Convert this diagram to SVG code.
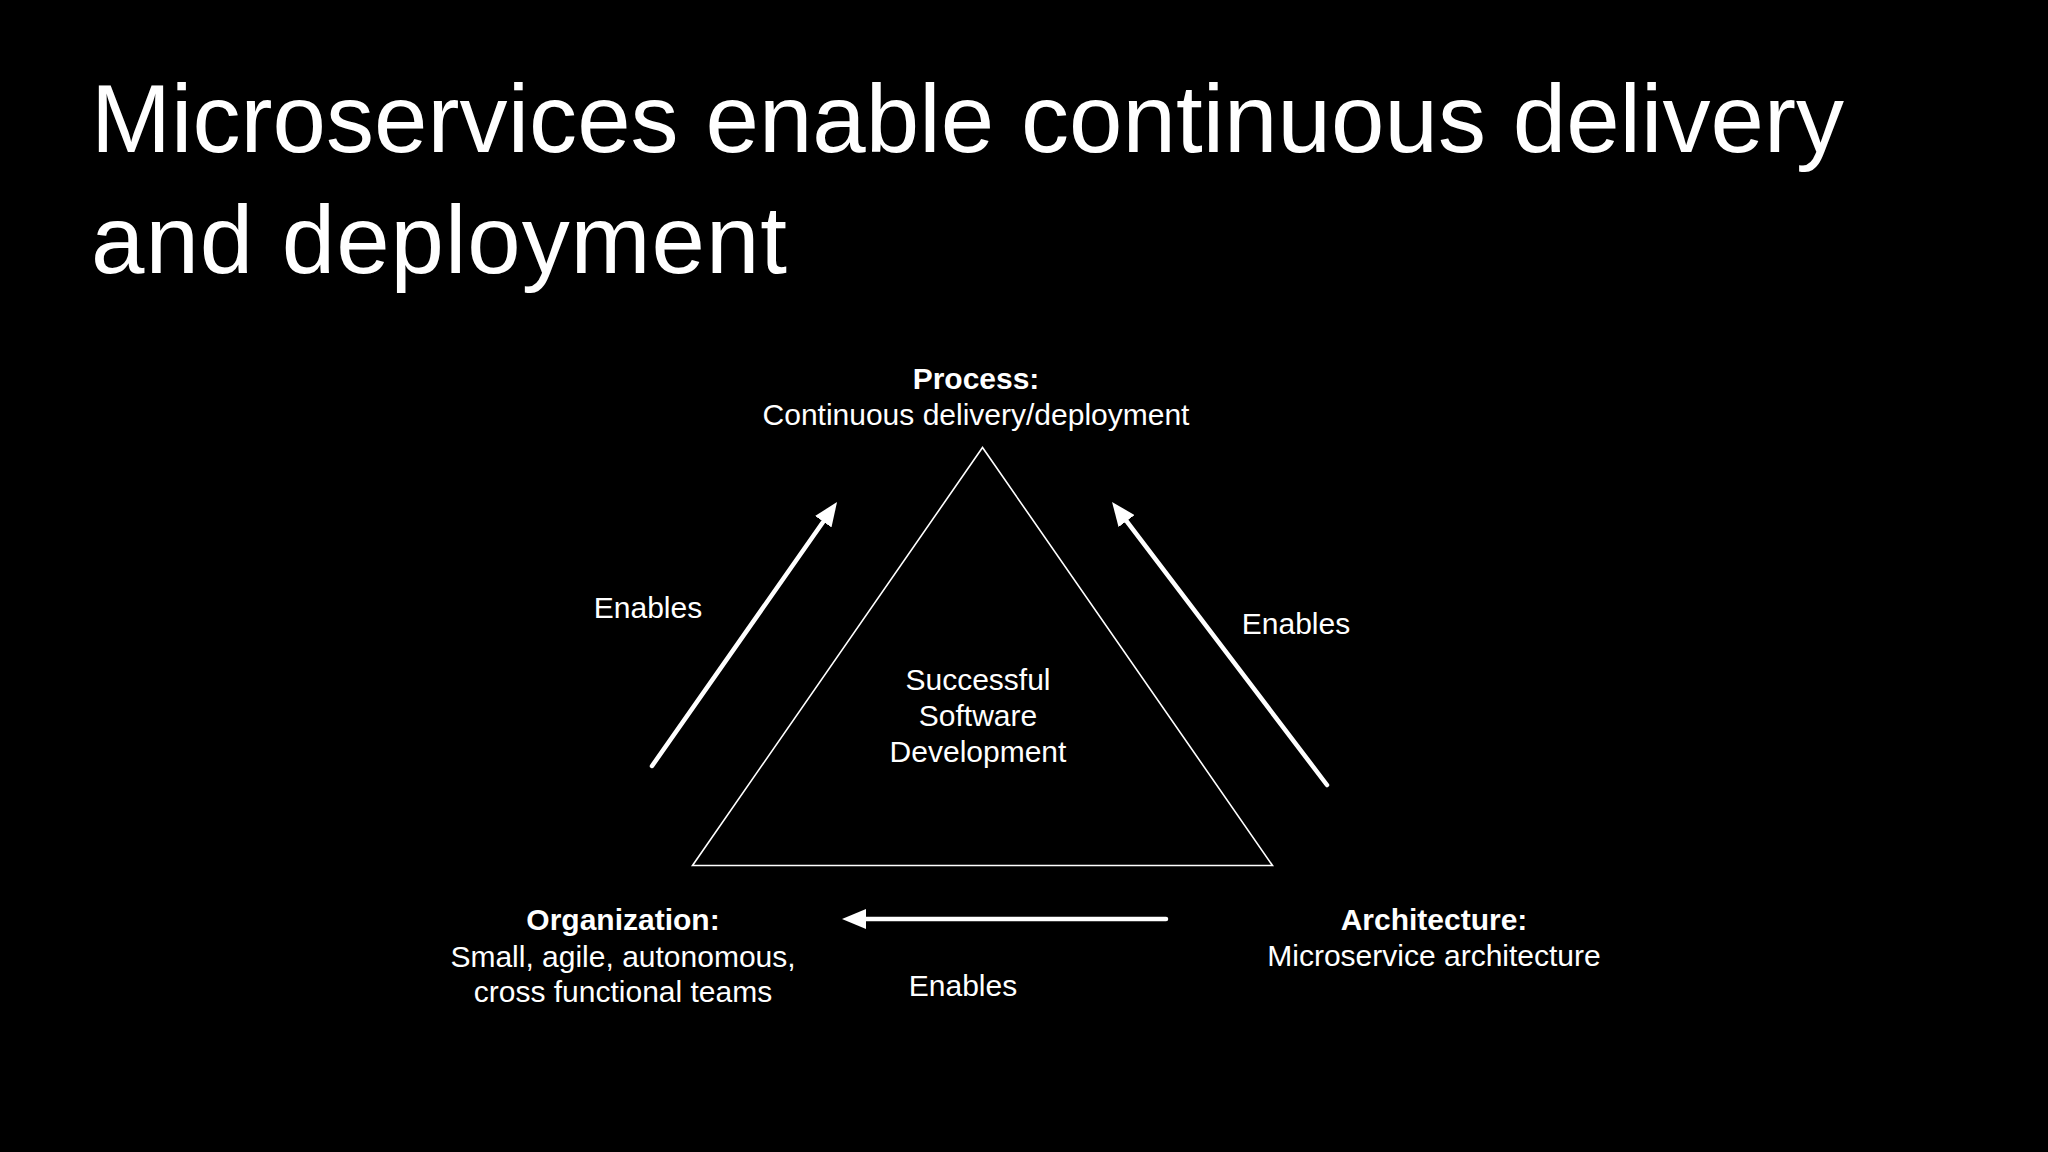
<svg xmlns="http://www.w3.org/2000/svg" width="2048" height="1152" viewBox="0 0 2048 1152">
<style>
text{font-family:"Liberation Sans",Arial,Helvetica,sans-serif;fill:#fff}
.title{font-size:96px}
.lbl{font-size:30px;text-anchor:middle}
.b{font-weight:bold}
.arrow{stroke:#fff;stroke-width:4.5;fill:none;stroke-linecap:round}
</style>
<defs>
<marker id="ah" markerUnits="userSpaceOnUse" markerWidth="24" markerHeight="20" refX="10" refY="10" orient="auto">
<path d="M0,0 L24,10 L0,20 Z" fill="#fff"/>
</marker>
</defs>
<rect width="2048" height="1152" fill="#000"/>
<g id="title">
<text class="title" x="91" y="152" textLength="1753">Microservices enable continuous delivery</text>
<text class="title" x="91" y="273" textLength="696">and deployment</text>
</g>
<g id="triangle">
<polygon points="982.5,447.5 692.5,865.5 1272.5,865.5" fill="none" stroke="#fff" stroke-width="1.6"/>
<text class="lbl" x="978" y="690">Successful</text>
<text class="lbl" x="978" y="726">Software</text>
<text class="lbl" x="978" y="762">Development</text>
</g>
<g id="process">
<text class="lbl b" x="976" y="389">Process:</text>
<text class="lbl" x="976" y="425">Continuous delivery/deployment</text>
</g>
<g id="organization">
<text class="lbl b" x="623" y="930">Organization:</text>
<text class="lbl" x="623" y="967">Small, agile, autonomous,</text>
<text class="lbl" x="623" y="1002">cross functional teams</text>
</g>
<g id="architecture">
<text class="lbl b" x="1434" y="930">Architecture:</text>
<text class="lbl" x="1434" y="966">Microservice architecture</text>
</g>
<g id="connectors">
<line class="arrow" x1="652" y1="766" x2="829" y2="513.5" marker-end="url(#ah)"/>
<line class="arrow" x1="1327" y1="785" x2="1120.5" y2="513.1" marker-end="url(#ah)"/>
<line class="arrow" x1="1166" y1="919" x2="856" y2="919" marker-end="url(#ah)"/>
<text class="lbl" x="648" y="618">Enables</text>
<text class="lbl" x="1296" y="634">Enables</text>
<text class="lbl" x="963" y="996">Enables</text>
</g>
</svg>
